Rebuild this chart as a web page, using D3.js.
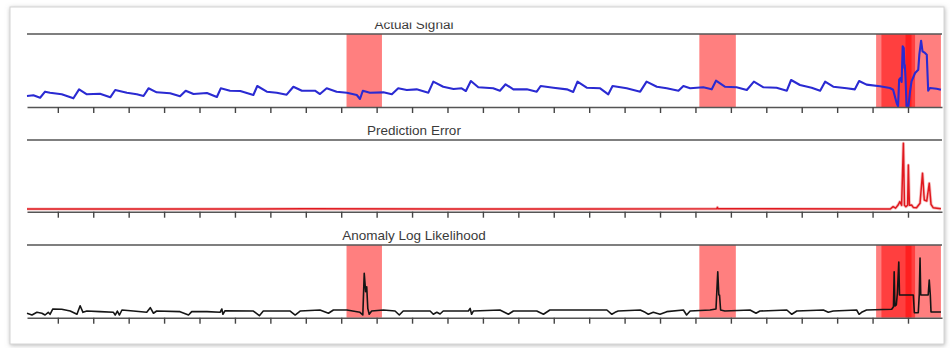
<!DOCTYPE html>
<html>
<head>
<meta charset="utf-8">
<script src="https://cdn.jsdelivr.net/npm/d3@7"></script>
<style>
  body { margin: 0; background: #fff; }
  svg { display: block; font-family: Arial, "Liberation Sans", sans-serif; }
</style>
</head>
<body>
<div class="chart"></div>
<script>
// time axis is in days, one tick per day, no labels
var dayTicks = [0,1,2,3,4,5,6,7,8,9,10,11,12,13,14,15,16,17,18,19,20,21,22,23,24];

var titles = ["Actual Signal", "Prediction Error", "Anomaly Log Likelihood"];

// [day, value] - raw signal (arbitrary units 0..100)
var signal = [[-0.87,15.1],[-0.69,16.0],[-0.50,12.7],[-0.36,21.0],[-0.22,19.6],[0.11,17.4],[0.44,11.9],[0.60,24.2],[0.82,17.4],[1.19,18.2],
  [1.48,13.3],[1.62,23.3],[1.95,19.6],[2.23,17.4],[2.42,15.1],[2.56,25.6],[2.79,20.1],[3.17,18.8],[3.45,14.7],[3.61,22.3],
  [3.83,17.8],[4.21,19.2],[4.49,13.7],[4.60,25.6],[4.86,22.3],[5.15,21.9],[5.52,16.4],[5.63,28.8],[5.90,21.0],[6.18,19.6],
  [6.46,16.9],[6.65,27.8],[6.89,22.3],[7.26,22.3],[7.40,17.8],[7.59,25.6],[7.87,21.0],[8.16,19.6],[8.44,16.4],[8.53,11.0],
  [8.61,22.3],[8.81,19.6],[9.19,20.1],[9.43,17.4],[9.61,25.6],[9.85,23.3],[10.13,24.2],[10.46,19.6],[10.60,34.7],[10.88,27.8],
  [11.17,24.7],[11.40,25.6],[11.52,21.9],[11.66,35.6],[11.87,27.0],[12.29,25.6],[12.48,22.3],[12.64,31.1],[12.86,24.2],[13.24,24.2],
  [13.52,21.0],[13.63,28.8],[13.99,26.4],[14.37,24.2],[14.55,20.6],[14.67,34.7],[14.93,26.4],[15.31,25.6],[15.54,17.4],[15.66,28.8],
  [16.06,25.6],[16.44,21.0],[16.62,34.7],[16.91,27.8],[17.19,25.6],[17.52,22.3],[17.66,28.8],[17.85,25.6],[18.22,27.0],[18.46,24.2],
  [18.58,36.0],[18.83,27.8],[19.16,27.0],[19.45,23.3],[19.65,34.7],[19.92,27.0],[20.29,26.4],[20.58,22.3],[20.70,37.0],[20.95,30.1],
  [21.28,26.4],[21.52,22.3],[21.66,34.7],[21.89,27.8],[22.27,25.6],[22.50,24.2],[22.62,35.6],[22.83,30.6],[23.21,28.4],[23.49,26.0],
  [23.58,23.7],[23.68,5.5],[23.72,1.0],[23.75,37.4],[23.79,39.7],[23.82,34.2],[23.85,83.2],[23.88,80.8],[23.90,53.4],[23.91,57.5],
  [23.93,39.7],[23.96,1.0],[24.01,0],[24.06,21.9],[24.10,35.2],[24.20,46.6],[24.29,51.1],[24.32,71.7],[24.37,90.8],[24.41,76.3],
  [24.48,74.0],[24.53,71.7],[24.57,22.3],[24.62,26.0],[24.81,25.1],[24.93,23.7]];

// [day, error] 0..1
var predError = [[-0.87,0.038],[3,0.036],[7,0.04],[11,0.037],[15,0.039],[18.60,0.04],[18.62,0.06],[18.64,0.04],[23.50,0.038],
  [23.58,0.07],[23.65,0.05],[23.72,0.093],[23.77,0.14],[23.82,0.09],[23.87,0.954],[23.90,0.09],[23.94,0.07],[23.99,0.09],
  [24.01,0.651],[24.04,0.09],[24.10,0.093],[24.15,0.06],[24.24,0.056],[24.34,0.117],[24.41,0.536],[24.46,0.163],[24.53,0.15],
  [24.60,0.396],[24.65,0.103],[24.71,0.056],[24.93,0.04]];

// [day, log likelihood] 0..1
var logLik = [[-0.87,0.061],[-0.73,0.037],[-0.59,0.074],[-0.45,0.061],[-0.36,0.037],[-0.27,0.074],[-0.22,0.047],[-0.14,0.120],
  [0.11,0.116],[0.35,0.092],[0.54,0.047],[0.63,0.165],[0.71,0.074],[0.82,0.092],[1.19,0.083],[1.57,0.074],[1.62,0.037],[1.68,0.092],
  [1.74,0.037],[1.81,0.106],[2.13,0.092],[2.51,0.074],[2.61,0.138],[2.70,0.061],[2.79,0.092],[3.45,0.083],[3.69,0.037],[3.78,0.083],
  [4.21,0.083],[4.58,0.074],[4.63,0.120],[4.66,0.047],[4.72,0.096],[5.52,0.092],[5.69,0.028],[5.80,0.092],[6.56,0.092],[6.70,0.037],
  [6.84,0.092],[7.40,0.106],[7.64,0.061],[7.78,0.106],[8.16,0.106],[8.53,0.074],[8.61,0.037],[8.65,0.611],[8.69,0.358],[8.72,0.426],
  [8.75,0.129],[8.79,0.047],[8.86,0.092],[9.19,0.106],[9.52,0.092],[9.64,0.037],[9.75,0.092],[10.51,0.092],[10.60,0.047],[10.70,0.074],
  [10.79,0.051],[10.88,0.092],[11.59,0.092],[11.64,0.129],[11.68,0.047],[11.73,0.092],[12.48,0.106],[12.72,0.047],[12.86,0.092],
  [13.52,0.092],[13.71,0.047],[13.89,0.106],[15.50,0.106],[15.64,0.047],[15.73,0.074],[15.82,0.092],[16.44,0.106],[16.58,0.074],
  [16.67,0.047],[16.81,0.074],[17.00,0.047],[17.19,0.083],[17.66,0.106],[17.75,0.037],[17.85,0.092],[18.41,0.106],[18.58,0.120],
  [18.63,0.633],[18.66,0.312],[18.68,0.312],[18.71,0.106],[18.83,0.092],[19.54,0.106],[19.71,0.061],[19.82,0.092],[20.58,0.106],
  [20.72,0.047],[20.86,0.092],[21.61,0.106],[21.75,0.074],[21.89,0.092],[22.55,0.106],[22.62,0.047],[22.69,0.074],[22.83,0.106],
  [23.54,0.116],[23.59,0.151],[23.61,0.633],[23.63,0.160],[23.67,0.175],[23.70,0.336],[23.74,0.766],[23.76,0.312],[24.15,0.312],
  [24.18,0.069],[24.29,0.069],[24.32,0.336],[24.34,0.821],[24.36,0.312],[24.57,0.312],[24.60,0.519],[24.63,0.312],[24.65,0.078],
  [24.93,0.078]];

// detected anomaly windows [startDay, endDay]
var anomalyWindows = [[8.15,9.15],[18.11,19.14],[23.10,24.10],[23.25,24.20],[23.93,24.93]];

var W = 950, H = 348;

var svg = d3.select(".chart")
  .append("svg")
  .attr("width", W)
  .attr("height", H);

var defs = svg.append("defs");
var shadow = defs.append("filter").attr("id", "shadow")
  .attr("x", "-5%").attr("y", "-5%").attr("width", "110%").attr("height", "110%");
shadow.append("feDropShadow")
  .attr("dx", 0.5).attr("dy", 1)
  .attr("stdDeviation", 2)
  .attr("flood-color", "#888")
  .attr("flood-opacity", 0.6);

// clip the first title like the cropped screenshot
defs.append("clipPath").attr("id", "titleclip")
  .append("rect")
  .attr("x", 0).attr("y", 22.5)
  .attr("width", W).attr("height", 20);

// card
svg.append("rect")
  .attr("x", 10).attr("y", 7)
  .attr("width", 934).attr("height", 337)
  .attr("fill", "#fff")
  .attr("stroke", "#d4d4d4")
  .attr("stroke-width", 1)
  .attr("filter", "url(#shadow)");

var x = d3.scaleLinear()
  .domain([-0.87, 24.96])
  .range([27, 942]);

var panels = [
  { top: 34,  bottom: 107,   domain: [0, 100], data: signal,    color: "#2a2ad2", width: 2.1, windows: true },
  { top: 140, bottom: 211.7, domain: [0, 1],   data: predError, color: "#e0181e", width: 1.5, windows: false },
  { top: 245, bottom: 317.7, domain: [0, 1],   data: logLik,    color: "#151515", width: 1.6, windows: true }
];

panels.forEach(function(p, i) {
  var y = d3.scaleLinear()
    .domain(p.domain)
    .range([p.bottom, p.top]);

  var g = svg.append("g").attr("class", "panel" + i);

  if (p.windows) {
    g.selectAll(".win")
      .data(anomalyWindows)
      .enter()
      .append("rect")
      .attr("class", "win")
      .attr("x", function(d) { return x(d[0]); })
      .attr("y", p.top)
      .attr("width", function(d) { return x(Math.min(d[1], 24.96)) - x(d[0]); })
      .attr("height", p.bottom - p.top)
      .attr("fill", "rgba(255, 0, 0, 0.5)");
  }

  var line = d3.line()
    .x(function(d) { return x(d[0]); })
    .y(function(d) { return y(d[1]); });

  if (i === 1) {
    // soft pink halo around the error trace
    g.append("path")
      .datum(p.data)
      .attr("fill", "none")
      .attr("stroke", "#f6c2c3")
      .attr("stroke-width", 3.2)
      .attr("stroke-linejoin", "round")
      .attr("d", line);
  }

  g.append("path")
    .datum(p.data)
    .attr("fill", "none")
    .attr("stroke", p.color)
    .attr("stroke-width", p.width)
    .attr("stroke-linejoin", "round")
    .attr("d", line);

  // top frame line
  g.append("line")
    .attr("x1", x.range()[0]).attr("x2", x.range()[1])
    .attr("y1", p.top).attr("y2", p.top)
    .attr("stroke", "#555")
    .attr("stroke-width", 1.6);

  var xAxis = d3.axisBottom(x)
    .tickValues(dayTicks)
    .tickSize(6)
    .tickSizeOuter(0)
    .tickFormat("");

  var ax = g.append("g")
    .attr("class", "x axis")
    .attr("transform", "translate(0," + p.bottom + ")")
    .call(xAxis);
  ax.select(".domain").attr("stroke", "#555").attr("stroke-width", 1.6);
  ax.selectAll(".tick line").attr("stroke", "#444").attr("stroke-width", 1.4);

  var t = g.append("text")
    .attr("x", 414)
    .attr("y", p.top - 5)
    .attr("text-anchor", "middle")
    .attr("font-size", "13.5px")
    .attr("fill", "#3a3a3a")
    .text(titles[i]);
  if (i === 0) t.attr("clip-path", "url(#titleclip)");
});
</script>
</body>
</html>
